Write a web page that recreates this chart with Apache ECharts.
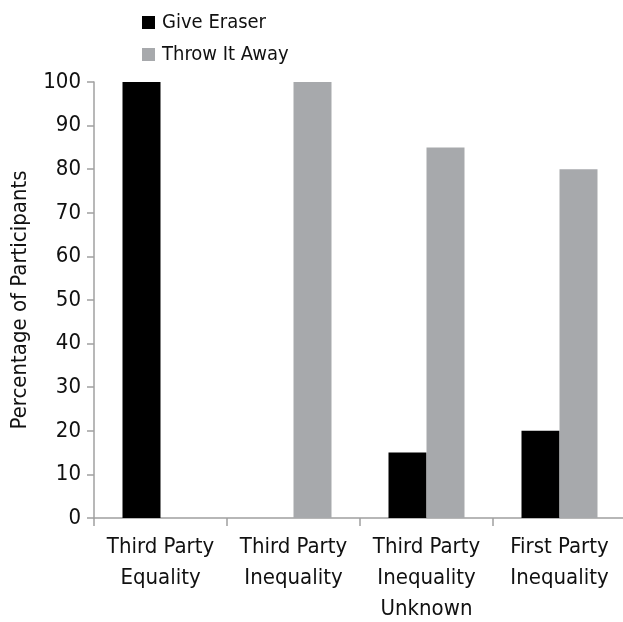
<!DOCTYPE html>
<html><head><meta charset="utf-8">
<script src="https://cdn.jsdelivr.net/npm/echarts@6/dist/echarts.min.js"></script>
<style>html,body{margin:0;padding:0;background:#fff}#c{width:623px;height:622px}</style>
</head><body><div id="c"></div>
<script>
const categories = ['Third Party\nEquality', 'Third Party\nInequality', 'Third Party\nInequality\nUnknown', 'First Party\nInequality'];
const giveEraser = [100, 0, 15, 20];
const throwItAway = [0, 100, 85, 80];
const yTicks = [0, 100, 10];
const FONT = '"DejaVu Sans Condensed", "Liberation Sans", sans-serif';
const chart = echarts.init(document.getElementById('c'), null, {renderer: 'canvas'});
chart.setOption({
  animation: false,
  backgroundColor: '#fff',
  textStyle: {fontFamily: FONT, color: '#111'},
  legend: {
    orient: 'vertical', left: 142, top: 12, padding: 0,
    itemWidth: 13, itemHeight: 13, itemGap: 11,
    icon: 'rect',
    textStyle: {fontFamily: FONT, fontSize: 20, color: '#111', lineHeight: 21, padding: [0, 0, 0, 2]},
    data: ['Give Eraser', 'Throw It Away']
  },
  grid: {left: 94, top: 82, width: 532, bottom: 104, containLabel: false, outerBoundsMode: 'none'},
  xAxis: {
    type: 'category', data: categories,
    axisLine: {lineStyle: {color: '#a0a0a0', width: 1.5}},
    axisTick: {show: true, length: 8, alignWithLabel: false, lineStyle: {color: '#a0a0a0', width: 1.5}},
    axisLabel: {fontFamily: FONT, fontSize: 22, color: '#111', lineHeight: 31, margin: 14, interval: 0}
  },
  yAxis: {
    type: 'value', min: yTicks[0], max: yTicks[1], interval: yTicks[2],
    name: 'Percentage of Participants', nameLocation: 'middle', nameGap: 63,
    nameTextStyle: {fontFamily: FONT, fontSize: 22, color: '#111'},
    axisLine: {show: true, lineStyle: {color: '#a0a0a0', width: 1.5}},
    axisTick: {show: true, length: 7, lineStyle: {color: '#a0a0a0', width: 1.5}},
    splitLine: {show: false},
    axisLabel: {fontFamily: FONT, fontSize: 22, color: '#111', margin: 13}
  },
  series: [
    {name: 'Give Eraser', type: 'bar', data: giveEraser, barWidth: 38, barGap: '0%', itemStyle: {color: '#000'}},
    {name: 'Throw It Away', type: 'bar', data: throwItAway, barWidth: 38, barGap: '0%', itemStyle: {color: '#a7a9ac'}}
  ]
});
</script></body></html>
